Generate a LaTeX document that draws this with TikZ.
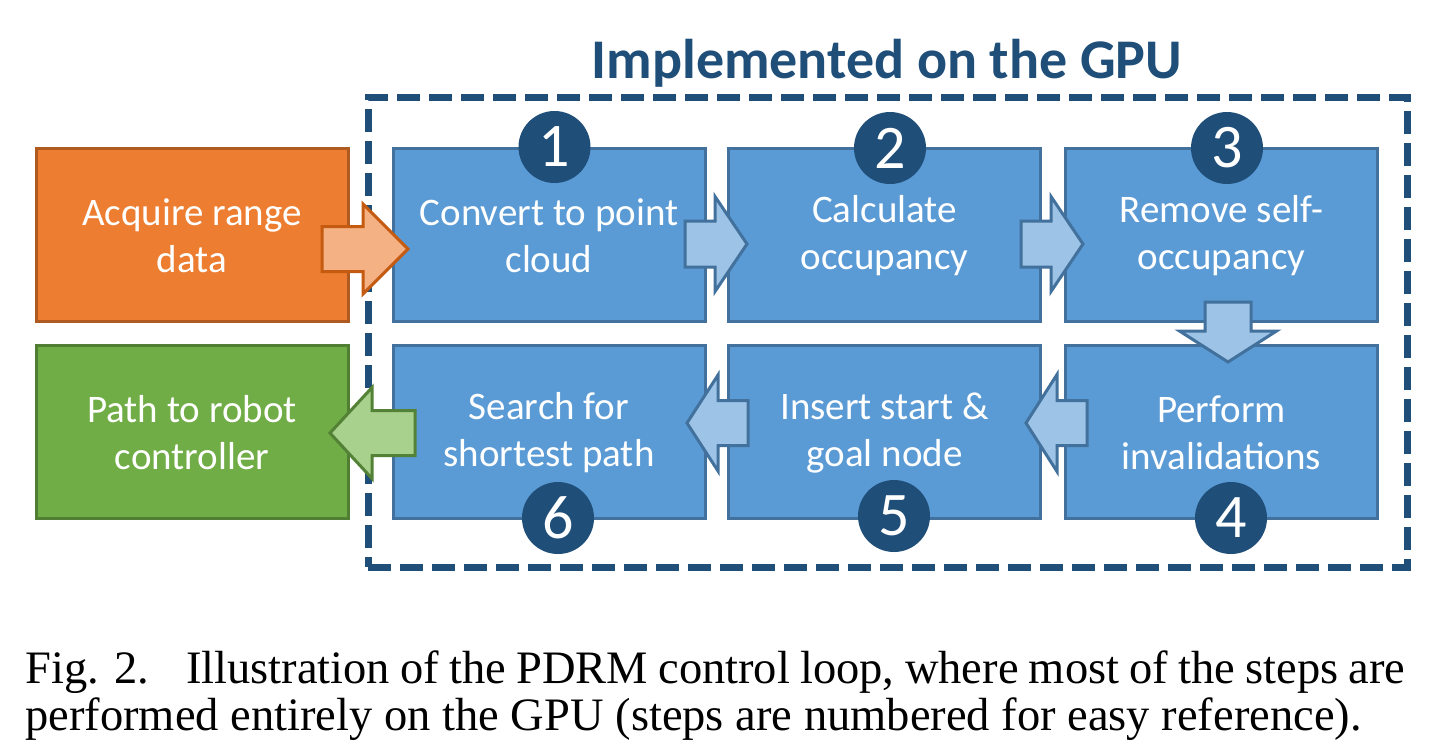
\documentclass[tikz,border=0pt]{standalone}
\usepackage{fontspec}
\setmainfont{Carlito}
\newfontfamily\capfont{Liberation Serif}
\definecolor{boxblue}{HTML}{5B9BD5}
\definecolor{boxbluedk}{HTML}{41719C}
\definecolor{boxorange}{HTML}{ED7D31}
\definecolor{boxorangedk}{HTML}{AE5A21}
\definecolor{boxgreen}{HTML}{70AD47}
\definecolor{boxgreendk}{HTML}{507E32}
\definecolor{arrblue}{HTML}{9DC3E6}
\definecolor{arrorange}{HTML}{F4B183}
\definecolor{arrorangedk}{HTML}{C55A11}
\definecolor{arrgreen}{HTML}{A9D18E}
\definecolor{arrgreendk}{HTML}{538135}
\definecolor{navy}{HTML}{1F4E79}
\tikzset{
  stepbox/.style={rectangle, inner sep=0pt, line width=1.5pt, minimum width=156pt, minimum height=86.5pt},
  bluebox/.style={stepbox, fill=boxblue, draw=boxbluedk},
  orangebox/.style={stepbox, fill=boxorange, draw=boxorangedk},
  greenbox/.style={stepbox, fill=boxgreen, draw=boxgreendk},
  boxtext/.style={text=white, align=center, inner sep=0pt, font=\fontsize{19.5}{23.5}\selectfont},
  numcircle/.style={circle, fill=navy, text=white, inner sep=0pt, minimum size=36pt, font=\fontsize{31}{31}\selectfont},
  gpuframe/.style={rectangle, draw=navy, line width=3.5pt, dash pattern=on 11.5pt off 4.5pt, minimum width=519.5pt, minimum height=235pt, inner sep=0pt},
  barblue/.style={fill=arrblue, draw=boxbluedk, line width=1.5pt, line join=miter},
  barorange/.style={fill=arrorange, draw=arrorangedk, line width=1.5pt, line join=miter},
  bargreen/.style={fill=arrgreen, draw=arrgreendk, line width=1.5pt, line join=miter},
  captext/.style={anchor=base west, inner sep=0pt, font=\capfont\fontsize{23.25}{23.25}\selectfont},
}
% style, tip, angle, total length, head length, shaft half width, head half width
\newcommand\blockarrow[7]{\draw[#1,shift={#2},rotate=#3] (0,0) -- (-#5,#7) -- (-#5,#6) -- (-#4,#6) -- (-#4,-#6) -- (-#5,-#6) -- (-#5,-#7) -- cycle;}
\begin{document}
\begin{tikzpicture}[x=0.5pt,y=-0.5pt]
\fill[white] (0,0) rectangle (1441,752);
\useasboundingbox (0,0) rectangle (1441,752);

% title and frame
\node[anchor=base, text=navy, inner sep=0pt, font=\bfseries\fontsize{28}{28}\selectfont] (title) at (887,78) {Implemented on the GPU};
\node[gpuframe] (gpu) at (887.5,332) {};

% boxes
\node[orangebox] (acq) at (192,234.5) {};
\node[greenbox] (path) at (192,431.5) {};
\node[bluebox] (b1) at (549,234.5) {};
\node[bluebox] (b2) at (884.5,234.5) {};
\node[bluebox] (b3) at (1221.5,234.5) {};
\node[bluebox] (b4) at (1221.5,431.5) {};
\node[bluebox] (b5) at (884.5,431.5) {};
\node[bluebox] (b6) at (549,431.5) {};

% texts
\node[boxtext] (tacq) at ([yshift=-0.75pt]acq.center) {Acquire range\\data};
\node[boxtext] (tpath) at ([yshift=-0.75pt]path.center) {Path to robot\\controller};
\node[boxtext] (t1) at ([yshift=-0.75pt]b1.center) {Convert to point\\cloud};
\node[boxtext] (t2) at ([yshift=-0.75pt]b2.center) {Calculate\\occupancy};
\node[boxtext] (t3) at ([yshift=-0.75pt]b3.center) {Remove self-\\occupancy};
\node[boxtext] (t4) at ([yshift=-0.75pt]b4.center) {Perform\\invalidations};
\node[boxtext] (t5) at ([yshift=-0.75pt]b5.center) {Insert start \&\\goal node};
\node[boxtext] (t6) at ([yshift=-0.75pt]b6.center) {Search for\\shortest path};

% block arrows
\blockarrow{barorange}{(408,249)}{0}{86}{45}{22.5}{45}
\blockarrow{barblue}{(747,244)}{0}{62}{32}{23}{47.5}
\blockarrow{barblue}{(1083,244)}{0}{62}{32}{23}{47.5}
\blockarrow{barblue}{(1228,362)}{-90}{60}{31}{23}{48.5}
\blockarrow{barblue}{(1026,423)}{180}{61}{31}{22.5}{48.5}
\blockarrow{barblue}{(687,423)}{180}{61}{31}{22.5}{48}
\blockarrow{bargreen}{(330,433)}{180}{85}{42}{22.5}{45.5}

% numbered circles
\node[numcircle] (n1) at (554.5,147) {1};
\node[numcircle] (n2) at (890,148) {2};
\node[numcircle] (n3) at (1227,148) {3};
\node[numcircle] (n4) at (1231,518) {4};
\node[numcircle] (n5) at (894,516) {5};
\node[numcircle] (n6) at (558,518) {6};

% caption
\node[captext] (cap1) at (25,683) {\makebox[690pt][s]{Fig. 2.\hspace{0.8em}Illustration of the PDRM control loop, where most of the steps are}};
\node[captext] (cap2) at (25,730) {performed entirely on the GPU (steps are numbered for easy reference).};
\end{tikzpicture}
\end{document}
